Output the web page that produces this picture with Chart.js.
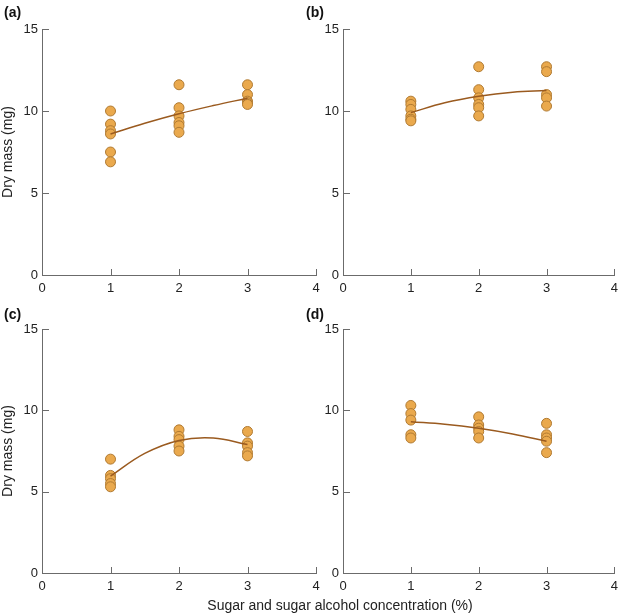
<!DOCTYPE html>
<html>
<head>
<meta charset="utf-8">
<script src="https://cdn.jsdelivr.net/npm/chart.js@4.4.1/dist/chart.umd.min.js"></script>
<style>
  body { margin: 0; background: #fff; }
  #wrap { position: relative; width: 624px; height: 615px; font-family: "Liberation Sans", Arial, sans-serif; }
  canvas { position: absolute; }
  .tag { position: absolute; font-weight: bold; font-size: 14px; color: #111; }
  #xtitle { position: absolute; left: 0; width: 680px; top: 597px; text-align: center; font-size: 14px; color: #222; }
</style>
</head>
<body>
<div id="wrap">
  <canvas id="pa" width="330" height="300" style="left:0;top:0"></canvas>
  <canvas id="pb" width="323" height="300" style="left:301px;top:0"></canvas>
  <canvas id="pc" width="330" height="300" style="left:0;top:300px"></canvas>
  <canvas id="pd" width="323" height="300" style="left:301px;top:300px"></canvas>
  <div class="tag" style="left:4px;top:4px">(a)</div>
  <div class="tag" style="left:306px;top:4px">(b)</div>
  <div class="tag" style="left:4px;top:306px">(c)</div>
  <div class="tag" style="left:306px;top:306px">(d)</div>
  <div id="xtitle">Sugar and sugar alcohol concentration (%)</div>
</div>
<script>

// concentrations (%) and the dry mass (mg) of each replicate
const concentrations = [1, 2, 3];
const massA = [[10.0, 9.2, 8.8, 8.6, 7.5, 6.9], [11.6, 10.2, 9.7, 9.3, 9.1, 8.7], [11.6, 11.0, 10.6, 10.5, 10.4]];
const massB = [[10.6, 10.4, 10.1, 9.7, 9.5, 9.4], [12.7, 11.3, 10.8, 10.4, 10.2, 9.7], [12.7, 12.4, 11.0, 10.8, 10.3]];
const massC = [[7.0, 6.0, 5.8, 5.5, 5.3], [8.8, 8.4, 8.2, 7.8, 7.5], [8.7, 8.0, 7.8, 7.4, 7.2]];
const massD = [[10.3, 9.8, 9.4, 8.5, 8.3], [9.6, 9.1, 8.9, 8.7, 8.3], [9.2, 8.5, 8.3, 8.1, 7.4]];

// fitted curves
const fitX = [1, 1.5, 2, 2.5, 3];
const fitA = [8.6, 9.25, 9.83, 10.33, 10.78];
const fitB = [9.9, 10.5, 10.9, 11.15, 11.25];
const fitC = [5.95, 7.35, 8.15, 8.3, 7.9];
const fitD = [9.3, 9.15, 8.9, 8.55, 8.1];

const xTicks = [0, 1, 2, 3, 4];
const yTicks = [0, 5, 10, 15];

const axisColor = '#6b6b6b';
const fontFam = '"Liberation Sans", Arial, sans-serif';

// tick marks pointing into the plot
const innerTicks = {
  id: 'innerTicks',
  afterDraw(chart) {
    const ctx = chart.ctx, area = chart.chartArea;
    ctx.save();
    ctx.strokeStyle = axisColor;
    ctx.lineWidth = 1;
    chart.scales.x.ticks.forEach(t => {
      const px = Math.round(chart.scales.x.getPixelForValue(t.value)) + 0.5;
      ctx.beginPath(); ctx.moveTo(px, area.bottom); ctx.lineTo(px, area.bottom - 6); ctx.stroke();
    });
    chart.scales.y.ticks.forEach(t => {
      const py = Math.round(chart.scales.y.getPixelForValue(t.value)) + 0.5;
      ctx.beginPath(); ctx.moveTo(area.left, py); ctx.lineTo(area.left + 7, py); ctx.stroke();
    });
    ctx.restore();
  }
};

function points(groups) {
  let out = [];
  groups.forEach((g, i) => g.forEach(v => out.push({x: concentrations[i], y: v})));
  return out;
}

function makePanel(id, groups, fit, showTitle, padRight, xHeight) {
  new Chart(document.getElementById(id), {
    type: 'scatter',
    data: {
      datasets: [{
        data: fitX.map((x, i) => ({x: x, y: fit[i]})),
        showLine: true,
        borderColor: '#9a5a1f',
        borderWidth: 1.5,
        pointRadius: 0,
        tension: 0.4,
        order: 0
      }, {
        data: points(groups),
        backgroundColor: '#eaa94d',
        borderColor: '#b07a32',
        borderWidth: 1,
        pointRadius: 5,
        order: 1
      }]
    },
    options: {
      responsive: false,
      animation: false,
      devicePixelRatio: 1,
      layout: { padding: { top: 29, right: padRight, left: 0, bottom: 0 } },
      plugins: { legend: { display: false }, tooltip: { enabled: false } },
      scales: {
        x: {
          type: 'linear', min: 0, max: 4,
          afterBuildTicks: s => { s.ticks = xTicks.map(v => ({value: v})); },
          afterFit: s => { s.height = xHeight; },
          grid: { display: false, drawTicks: false },
          border: { display: true, color: axisColor },
          ticks: { padding: 6, color: '#222', font: { size: 13, family: fontFam } }
        },
        y: {
          min: 0, max: 15,
          afterBuildTicks: s => { s.ticks = yTicks.map(v => ({value: v})); },
          afterFit: s => { s.width = 42; },
          grid: { display: false, drawTicks: false },
          border: { display: true, color: axisColor },
          ticks: { padding: 4, color: '#222', font: { size: 13, family: fontFam } },
          title: {
            display: showTitle, text: 'Dry mass (mg)', color: '#222',
            padding: 0, font: { size: 14, family: fontFam }
          }
        }
      }
    },
    plugins: [innerTicks]
  });
}

makePanel('pa', massA, fitA, true, 14, 25);
makePanel('pb', massB, fitB, false, 4, 25);
makePanel('pc', massC, fitC, true, 14, 27);
makePanel('pd', massD, fitD, false, 4, 27);
</script>
</body>
</html>
